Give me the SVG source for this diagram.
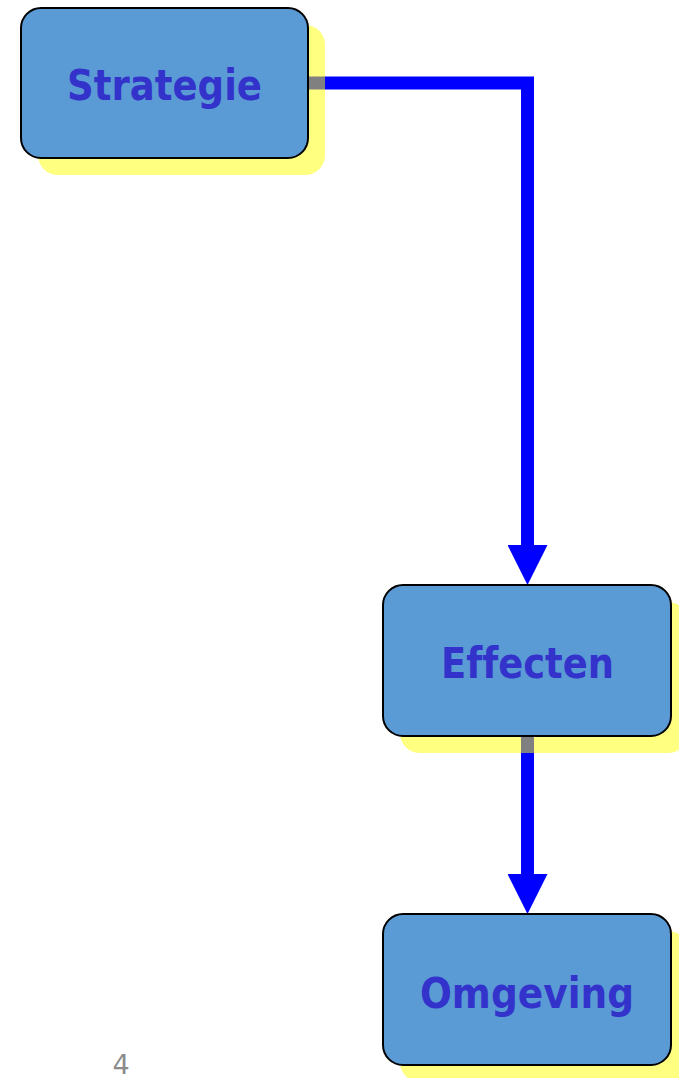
<svg xmlns="http://www.w3.org/2000/svg" width="679" height="1078" viewBox="0 0 679 1078">
<style>
.shadow{fill:#FFFF80}
.box{fill:#5B9BD5;stroke:#000;stroke-width:2}
.lbl{font-family:"DejaVu Sans",Verdana,sans-serif;font-weight:bold;font-size:43px;fill:#3333CC;text-anchor:middle;font-variant-ligatures:none}
.wire{stroke:#0000FF;stroke-width:13;fill:none}
.grey{fill:#808080}
</style>
<defs>
<marker id="arr" markerUnits="userSpaceOnUse" markerWidth="40" markerHeight="40" refX="0" refY="20" orient="auto" viewBox="0 0 40 40">
<path d="M0,0 L40,20 L0,40 Z" fill="#0000FF"/>
</marker>
</defs>
<rect width="679" height="1078" fill="#fff"/>
<g id="shadows">
<rect class="shadow" x="38" y="25" width="287" height="150" rx="20"/>
<rect class="shadow" x="400" y="602" width="288" height="151" rx="20"/>
<rect class="shadow" x="400" y="931" width="288" height="151" rx="20"/>
</g>
<g id="connectors">
<rect class="grey" x="309" y="76.5" width="16" height="13"/>
<path class="wire" d="M325,83 H527.5 V545" marker-end="url(#arr)"/>
<rect class="grey" x="521" y="737" width="13" height="16"/>
<path class="wire" d="M527.5,753 V874" marker-end="url(#arr)"/>
</g>
<g id="strategie">
<rect class="box" x="21" y="8" width="287" height="150" rx="20"/>
<text class="lbl" x="164.5" y="100" textLength="195" lengthAdjust="spacingAndGlyphs">Strategie</text>
</g>
<g id="effecten">
<rect class="box" x="383" y="585" width="288" height="151" rx="20"/>
<text class="lbl" x="527.5" y="678" textLength="173" lengthAdjust="spacingAndGlyphs">Effecten</text>
</g>
<g id="omgeving">
<rect class="box" x="383" y="914" width="288" height="151" rx="20"/>
<text class="lbl" x="527" y="1008" textLength="214" lengthAdjust="spacingAndGlyphs">Omgeving</text>
</g>
<text x="121" y="1074" font-family="'DejaVu Sans',Verdana,sans-serif" font-size="27" fill="#8C8C8C" text-anchor="middle">4</text>
</svg>
